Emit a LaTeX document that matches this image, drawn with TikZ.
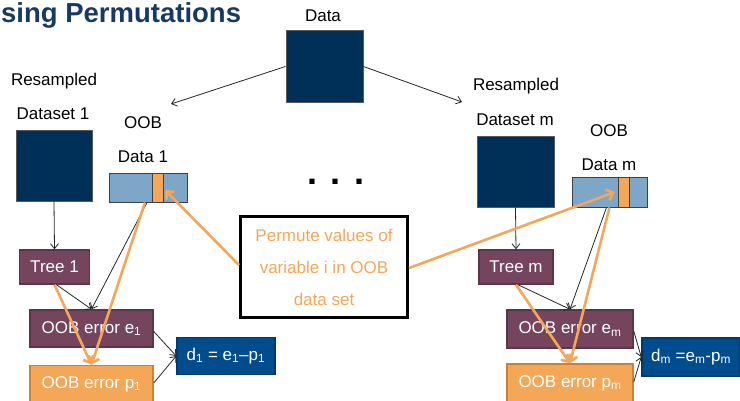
\documentclass[tikz,border=0pt]{standalone}
\usepackage{fontspec}
\setmainfont{Liberation Sans}
\usetikzlibrary{arrows.meta,calc}
\definecolor{navy}{HTML}{003058}
\definecolor{lightb}{HTML}{7EA6C8}
\definecolor{plum}{HTML}{74455D}
\definecolor{plumdk}{HTML}{5E3449}
\definecolor{orng}{HTML}{F4A857}
\definecolor{orngdk}{HTML}{C8823A}
\definecolor{dblue}{HTML}{004C8C}
\definecolor{dbluedk}{HTML}{003A6E}
\definecolor{titleblue}{HTML}{173A63}
\definecolor{arrorange}{HTML}{F4A65A}
\begin{document}
\begin{tikzpicture}[x=1pt,y=-1pt,
  every node/.style={font=\fontsize{17}{20}\selectfont, inner sep=0pt},
  databox/.style={draw=black!65, fill=navy, line width=1pt},
  oobbox/.style={draw=black!75, fill=lightb, line width=1pt},
  stripe/.style={draw=black!75, fill=orng, line width=1pt},
  treebox/.style={draw=plumdk, fill=plum, line width=1.5pt, text=white},
  errbox/.style={draw=orngdk, fill=orng, line width=1.5pt, text=white},
  dbox/.style={draw=dbluedk, fill=dblue, line width=1.5pt, text=white},
  lbl/.style={text=black},
  blk/.style={draw=black!85, line width=0.8pt, -{Straight Barb[length=5pt,width=8pt]}},
  org/.style={draw=arrorange, line width=2.6pt, -{Straight Barb[length=6pt,width=11pt]}}]
\useasboundingbox (0,0) rectangle (740,400);
% title
\node[anchor=west, text=titleblue, font=\fontsize{27.5}{30}\selectfont\bfseries] (title) at (1,15) {sing Permutations};
% data
\node[lbl] (datal) at (323,16) {Data};
\node[databox, minimum width=77pt, minimum height=72pt] (data) at (324.5,66.5) {};
\coordinate (lefttip) at (171,104);
\coordinate (righttip) at (462,102);
% left side
\node[lbl] (res1) at (54,81) {Resampled};
\node[lbl] (ds1l) at (53,114) {Dataset 1};
\node[databox, minimum width=76pt, minimum height=71pt] (ds1) at (54,165.5) {};
\node[lbl] (oob1a) at (143,123) {OOB};
\node[lbl] (oob1b) at (143,157) {Data 1};
\node[oobbox, minimum width=78pt, minimum height=29pt] (oob1) at (148,187.5) {};
\node[stripe, minimum width=11pt, minimum height=29pt] (str1) at (157.5,187.5) {};
\node[treebox, minimum width=70pt, minimum height=34pt] (tree1) at (54.5,267) {Tree 1};
\node[treebox, minimum width=123pt, minimum height=37pt] (e1) at (91.5,328.5) {OOB error e\textsubscript{1}};
\node[errbox, minimum width=123pt, minimum height=37pt] (p1) at (91.5,384) {OOB error p\textsubscript{1}};
\node[dbox, minimum width=98pt, minimum height=37pt] (d1) at (226,356) {d\textsubscript{1} = e\textsubscript{1}–p\textsubscript{1}};
% dots
\node[font=\fontsize{36}{36}\selectfont\bfseries] (dots) at (336,182) {. . .};
% permute box
\node[draw=black, line width=3pt, minimum width=167pt, minimum height=101pt, text=arrorange, align=center, font=\fontsize{17}{32}\selectfont] (perm) at (324,267) {Permute values of\\variable i in OOB\\data set};
% right side
\node[lbl] (resm) at (516,86) {Resampled};
\node[lbl] (dsml) at (515,120) {Dataset m};
\node[databox, minimum width=77pt, minimum height=71pt] (dsm) at (515.5,171.5) {};
\node[lbl] (oobma) at (609,131) {OOB};
\node[lbl] (oobmb) at (609,165) {Data m};
\node[oobbox, minimum width=75pt, minimum height=30pt] (oobm) at (609.5,192) {};
\node[stripe, minimum width=11pt, minimum height=30pt] (strm) at (623.5,192) {};
\node[treebox, minimum width=74pt, minimum height=34pt] (treem) at (516,267) {Tree m};
\node[treebox, minimum width=126pt, minimum height=38pt] (em) at (570,329) {OOB error e\textsubscript{m}};
\node[errbox, minimum width=126pt, minimum height=38pt] (pm) at (570,383) {OOB error p\textsubscript{m}};
\node[dbox, minimum width=98pt, minimum height=38pt] (dm) at (691,357) {d\textsubscript{m} =e\textsubscript{m}-p\textsubscript{m}};
% black arrows
\draw[blk] (data.west) -- (lefttip);
\draw[blk] (data.east) -- (righttip);
\draw[blk] (ds1.south) -- (tree1.north);
\draw[blk] ($(tree1.south)+(2,0)$) -- (e1.north);
\draw[blk] ($(oob1.south)+(-1,0)$) -- (e1.north);
\draw[blk] ($(e1.east)+(0,3)$) -- (d1.west);
\draw[blk] ($(p1.east)+(0,-1)$) -- (d1.west);
\draw[blk] (dsm.south) -- (treem.north);
\draw[blk] ($(treem.south)+(2,0)$) -- (em.north);
\draw[blk] ($(oobm.south)+(-3,0)$) -- (em.north);
\draw[blk] ($(em.east)+(0,2)$) -- (dm.west);
\draw[blk] ($(pm.east)+(0,-1)$) -- (dm.west);
% orange arrows
\draw[org] (tree1.south) -- (p1.north);
\draw[org] ($(oob1.south)+(-3,0)$) -- (p1.north);
\draw[org] ($(perm.west)+(0,-2)$) -- (165,190);
\draw[org] ($(perm.east)+(0,1)$) -- (615,192);
\draw[org] (treem.south) -- (pm.north);
\draw[org] ($(oobm.south)+(0,0)$) -- (pm.north);
\end{tikzpicture}
\end{document}
